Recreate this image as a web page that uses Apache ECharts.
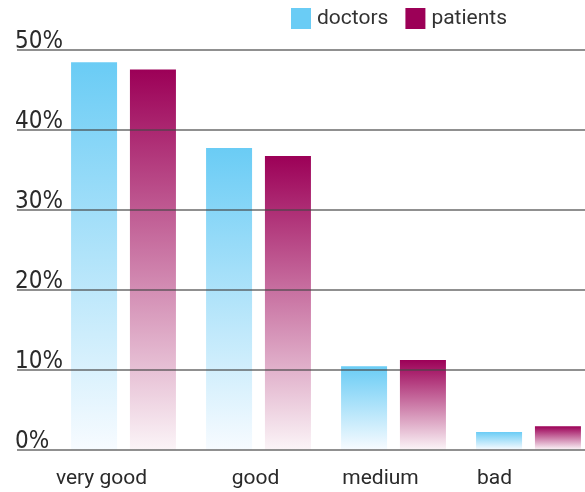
<!DOCTYPE html>
<html>
<head>
<meta charset="utf-8">
<script src="https://cdn.jsdelivr.net/npm/echarts@6/dist/echarts.min.js"></script>
<style>html,body{margin:0;padding:0;background:#fff}#c{width:585px;height:492px}</style>
</head>
<body>
<div id="c"></div>
<script>
const categories = ['very good', 'good', 'medium', 'bad'];
const doctors = [48.4, 37.7, 10.4, 2.2];
const patients = [47.5, 36.7, 11.2, 2.9];
const seriesNames = ['doctors', 'patients'];

const labelShift = [44, 6, 26, 68]; // right padding to nudge category labels left
const tickFont = '"Liberation Sans Narrow", "DejaVu Sans Condensed", Roboto, sans-serif';
const textFont = 'Roboto, "Liberation Sans", sans-serif';

const chart = echarts.init(document.getElementById('c'), null, {renderer: 'canvas'});
chart.setOption({
  animation: false,
  legend: {
    data: [
      {name: seriesNames[0], itemStyle: {color: '#6accf5'}},
      {name: seriesNames[1], itemStyle: {color: '#9c0057'}}
    ],
    left: 291, top: 8, padding: 0,
    itemWidth: 20, itemHeight: 21, itemGap: 17,
    icon: 'rect',
    textStyle: {fontFamily: textFont, fontSize: 21, color: '#333', padding: [0, 0, 0, 1]}
  },
  grid: [
    {left: 17, right: 0, top: 49.5, bottom: 42.5, outerBoundsMode: 'none'},
    {left: 56, width: 540, top: 49.5, bottom: 42.5, outerBoundsMode: 'none'}
  ],
  xAxis: [
    {type: 'category', gridIndex: 0, show: false, data: categories},
    {
      type: 'category', gridIndex: 1, data: categories.map((c, i) => ({value: c, textStyle: {padding: [0, labelShift[i], 0, 0]}})),
      axisLine: {show: false}, axisTick: {show: false},
      axisLabel: {fontFamily: textFont, fontSize: 21, color: '#2a2a2a', margin: 19}
    }
  ],
  yAxis: [
    {
      type: 'value', gridIndex: 0, min: 0, max: 50, interval: 10, z: 10,
      axisLine: {show: false}, axisTick: {show: false},
      splitLine: {lineStyle: {color: 'rgba(70,70,70,0.6)', width: 2}},
      axisLabel: {
        inside: true, margin: -2, verticalAlign: 'bottom', lineHeight: 16,
        fontFamily: tickFont, fontSize: 24, color: '#2a2a2a',
        formatter: v => v + '%'
      }
    },
    {type: 'value', gridIndex: 1, min: 0, max: 50, interval: 10, show: false, splitLine: {show: false}}
  ],
  series: [
    {
      name: seriesNames[0], type: 'bar', xAxisIndex: 1, yAxisIndex: 1, data: doctors,
      barWidth: 46, barGap: '28%',
      itemStyle: {color: new echarts.graphic.LinearGradient(0, 0, 0, 1, [{offset: 0, color: '#6accf5'}, {offset: 1, color: '#f7fbff'}])}
    },
    {
      name: seriesNames[1], type: 'bar', xAxisIndex: 1, yAxisIndex: 1, data: patients,
      barWidth: 46, barGap: '28%',
      itemStyle: {color: new echarts.graphic.LinearGradient(0, 0, 0, 1, [{offset: 0, color: '#9c0057'}, {offset: 1, color: '#fbf4f7'}])}
    }
  ]
});
</script>
</body>
</html>
